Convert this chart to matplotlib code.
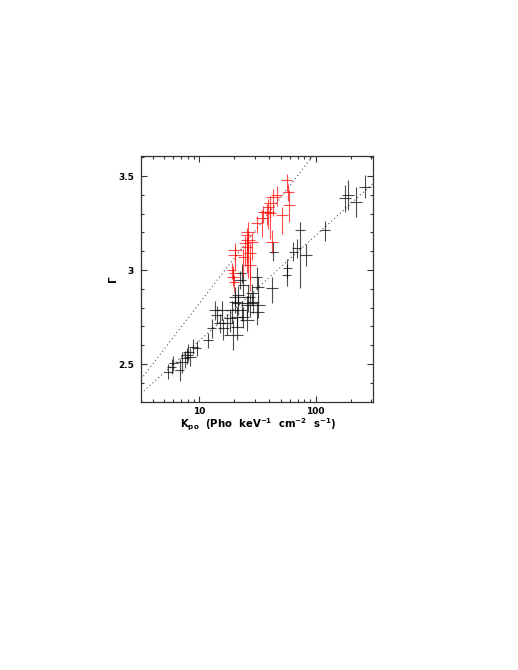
import matplotlib
matplotlib.use("Agg")
import matplotlib.pyplot as plt
import numpy as np
from matplotlib.ticker import FixedLocator, LogLocator, NullFormatter, ScalarFormatter

OUT_PNG = "out.png"

# red sample: K_po, Gamma, x half-width (dex), y err low / high
RED_K = [56.4, 58.2, 59.3, 46.2, 43.3, 40.5, 39.2, 37.9, 35.5, 40.5, 51.1, 31.1, 41.9, 26.4, 25.5,
         28.2, 26.4, 24.7, 25.5, 27.3, 20.3, 20.3, 23.9, 27.3, 19.6, 19.6, 19.0, 19.9, 34.6]
RED_G = [3.479, 3.416, 3.346, 3.399, 3.390, 3.356, 3.337, 3.310, 3.310, 3.303, 3.293, 3.248, 3.151, 3.204, 3.186,
         3.151, 3.160, 3.142, 3.124, 3.090, 3.106, 3.080, 3.071, 3.027, 2.982, 2.964, 3.000, 2.936, 3.277]
RED_KDEX = [0.045, 0.05, 0.05, 0.05, 0.06, 0.05, 0.05, 0.06, 0.05, 0.05, 0.05, 0.05, 0.05, 0.06, 0.05,
            0.05, 0.06, 0.05, 0.05, 0.05, 0.06, 0.06, 0.05, 0.05, 0.04, 0.05, 0.04, 0.04, 0.05]
RED_GLO = [0.06, 0.05, 0.09, 0.06, 0.10, 0.08, 0.12, 0.07, 0.06, 0.14, 0.10, 0.05, 0.06, 0.12, 0.15,
           0.10, 0.20, 0.12, 0.14, 0.20, 0.06, 0.08, 0.10, 0.08, 0.05, 0.05, 0.05, 0.05, 0.10]
RED_GHI = [0.03, 0.04, 0.08, 0.05, 0.04, 0.04, 0.04, 0.04, 0.03, 0.04, 0.04, 0.04, 0.06, 0.05, 0.04,
           0.04, 0.05, 0.04, 0.05, 0.05, 0.04, 0.04, 0.04, 0.04, 0.04, 0.04, 0.04, 0.04, 0.04]

# black sample
BLK_K = [265, 222, 190.6, 178.7, 120.2, 73.3, 68.7, 64.3, 82.6, 57.0, 56.4, 43.3, 41.9, 31.1, 32.1,
         23.9, 28.2, 26.4, 21.6, 20.3, 27.3, 25.5, 29.1, 32.1, 19.0, 23.1, 31.1, 23.9, 18.4, 21.0,
         25.5, 17.2, 21.0, 19.6, 16.1, 15.1, 14.1, 13.6, 15.6, 12.8, 11.9, 9.5, 8.9, 8.05, 7.8,
         7.5, 8.3, 7.1, 6.0, 5.8, 6.8, 5.4, 20.3, 21.6, 23.1, 22.4]
BLK_G = [3.443, 3.363, 3.399, 3.381, 3.213, 3.213, 3.115, 3.097, 3.080, 3.009, 2.973, 3.097, 2.903, 2.964, 2.911,
         2.920, 2.876, 2.858, 2.867, 2.831, 2.823, 2.814, 2.831, 2.814, 2.787, 2.787, 2.778, 2.752, 2.743, 2.752,
         2.734, 2.716, 2.698, 2.654, 2.690, 2.716, 2.761, 2.787, 2.787, 2.690, 2.628, 2.584, 2.592, 2.565, 2.548,
         2.530, 2.539, 2.512, 2.504, 2.486, 2.468, 2.459, 2.858, 2.823, 2.982, 2.947]
BLK_KDEX = [0.05, 0.05, 0.05, 0.05, 0.04, 0.04, 0.04, 0.04, 0.05, 0.04, 0.04, 0.04, 0.05, 0.05, 0.05,
            0.05, 0.05, 0.06, 0.05, 0.05, 0.06, 0.05, 0.05, 0.06, 0.05, 0.05, 0.06, 0.05, 0.05, 0.05,
            0.06, 0.05, 0.05, 0.08, 0.05, 0.05, 0.05, 0.05, 0.05, 0.04, 0.04, 0.04, 0.04, 0.05, 0.05,
            0.04, 0.05, 0.05, 0.04, 0.04, 0.04, 0.04, 0.05, 0.05, 0.04, 0.05]
BLK_GLO = [0.06, 0.08, 0.08, 0.07, 0.06, 0.31, 0.05, 0.05, 0.06, 0.05, 0.06, 0.05, 0.08, 0.07, 0.06,
           0.06, 0.06, 0.08, 0.06, 0.06, 0.07, 0.06, 0.06, 0.07, 0.07, 0.06, 0.07, 0.06, 0.07, 0.06,
           0.06, 0.06, 0.07, 0.08, 0.06, 0.05, 0.05, 0.05, 0.05, 0.05, 0.04, 0.04, 0.04, 0.05, 0.05,
           0.05, 0.05, 0.06, 0.04, 0.04, 0.06, 0.04, 0.05, 0.06, 0.05, 0.05]
BLK_GHI = [0.06, 0.08, 0.08, 0.07, 0.05, 0.04, 0.05, 0.05, 0.06, 0.05, 0.06, 0.05, 0.06, 0.05, 0.05,
           0.06, 0.05, 0.06, 0.05, 0.05, 0.05, 0.05, 0.05, 0.05, 0.05, 0.05, 0.05, 0.05, 0.05, 0.05,
           0.05, 0.05, 0.05, 0.08, 0.05, 0.05, 0.05, 0.05, 0.05, 0.05, 0.04, 0.04, 0.04, 0.04, 0.04,
           0.04, 0.04, 0.05, 0.04, 0.04, 0.06, 0.04, 0.05, 0.05, 0.05, 0.05]

# dotted relations Gamma = a + b log10(K)
FIT_UPPER = (2.0175, 0.805)
FIT_LOWER = (2.064, 0.56)

X_LIM = (3.155, 309.0)
Y_LIM = (2.30, 3.608)


def draw_set(ax, k, g, kdex, glo, ghi, color):
    k = np.asarray(k)
    kdex = np.asarray(kdex)
    xerr = [k - k / 10 ** kdex, k * 10 ** kdex - k]
    ax.errorbar(k, g, xerr=xerr, yerr=[glo, ghi], fmt="none", ecolor=color,
                elinewidth=0.8, capsize=0, alpha=0.7, zorder=3)


def main() -> None:
    plt.rcParams["font.family"] = ["DejaVu Sans"]
    plt.rcParams["font.weight"] = "bold"
    plt.rcParams["mathtext.fontset"] = "custom"
    plt.rcParams["mathtext.rm"] = "DejaVu Sans:bold"

    fig = plt.figure(figsize=(5.18, 6.70), dpi=100)
    ax = fig.add_axes([0.2722, 0.4004, 0.4473, 0.3672])

    kk = np.logspace(np.log10(X_LIM[0]), np.log10(X_LIM[1]), 200)
    for a, b in (FIT_UPPER, FIT_LOWER):
        ax.plot(kk, a + b * np.log10(kk), linestyle=(0, (1, 2.5)), color="#555555", lw=0.8, zorder=2)

    draw_set(ax, BLK_K, BLK_G, BLK_KDEX, BLK_GLO, BLK_GHI, "black")
    draw_set(ax, RED_K, RED_G, RED_KDEX, RED_GLO, RED_GHI, "red")

    ax.set_xscale("log")
    ax.set_xlim(*X_LIM)
    ax.set_ylim(*Y_LIM)

    ax.xaxis.set_major_locator(FixedLocator([10, 100]))
    ax.xaxis.set_major_formatter(ScalarFormatter())
    ax.xaxis.set_minor_locator(LogLocator(base=10, subs=np.arange(2, 10)))
    ax.xaxis.set_minor_formatter(NullFormatter())
    ax.yaxis.set_major_locator(FixedLocator([2.5, 3.0, 3.5]))
    ax.set_yticklabels(["2.5", "3", "3.5"])
    ax.yaxis.set_minor_locator(FixedLocator(np.arange(2.3, 3.61, 0.1)))

    ax.tick_params(which="both", direction="in", top=True, right=True, colors="#333333",
                   labelcolor="black", labelsize=6.5)
    ax.tick_params(which="major", length=4.5, width=0.8)
    ax.tick_params(which="minor", length=2.5, width=0.8)
    ax.tick_params(axis="x", pad=4)
    ax.tick_params(axis="y", pad=5)
    for spine in ax.spines.values():
        spine.set_linewidth(0.9)
        spine.set_color("#333333")

    ax.set_xlabel(r"K$_{\rm po}$  (Pho  keV$^{-1}$  cm$^{-2}$  s$^{-1}$)", fontsize=7.3, fontweight="bold")
    ax.xaxis.set_label_coords(0.505, -0.06)
    ax.set_ylabel("Γ", fontsize=7.5, fontweight="bold")
    ax.yaxis.set_label_coords(-0.10, 0.5)

    fig.savefig(OUT_PNG, dpi=100)
    plt.close(fig)


if __name__ == "__main__":
    main()
